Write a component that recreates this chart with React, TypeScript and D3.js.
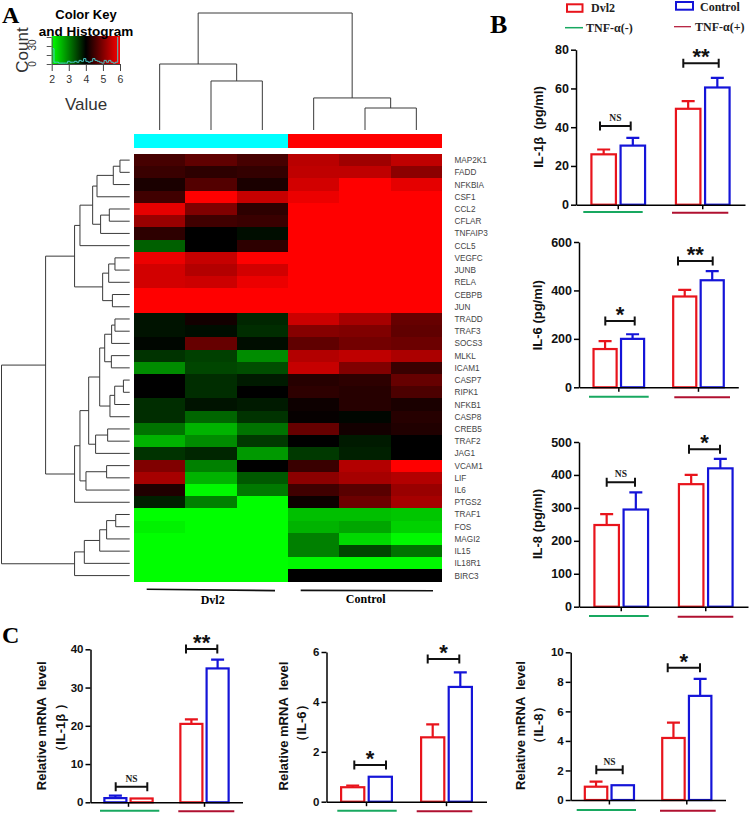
import React, { useEffect, useRef } from 'react'
import { axisBottom, axisLeft, range, scaleBand, scaleLinear, select, line, curveStepAfter } from 'd3'

// heatmap
const genes = ['MAP2K1', 'FADD', 'NFKBIA', 'CSF1', 'CCL2', 'CFLAR', 'TNFAIP3', 'CCL5', 'VEGFC', 'JUNB', 'RELA', 'CEBPB', 'JUN',
    'TRADD', 'TRAF3', 'SOCS3', 'MLKL', 'ICAM1', 'CASP7', 'RIPK1', 'NFKB1', 'CASP8', 'CREB5', 'TRAF2', 'JAG1',
    'VCAM1', 'LIF', 'IL6', 'PTGS2', 'TRAF1', 'FOS', 'MAGI2', 'IL15', 'IL18R1', 'BIRC3']

const expression: number[][] = [
    [4.55, 4.75, 4.55, 5.45, 5.25, 5.5],
    [4.45, 4.35, 4.4, 5.5, 5.5, 5.1],
    [4.2, 4.65, 4.2, 5.65, 6, 5.8],
    [4.5, 6, 5.55, 5.85, 6, 6],
    [5.8, 5.0, 4.35, 6, 6, 6],
    [5.2, 4.5, 4.45, 6, 6, 6],
    [4.35, 4.0, 3.9, 6, 6, 6],
    [3.25, 4.0, 4.35, 6, 6, 6],
    [5.85, 5.55, 6, 6, 6, 6],
    [5.65, 5.4, 5.65, 6, 6, 6],
    [5.65, 5.6, 5.85, 6, 6, 6],
    [6, 6, 6, 6, 6, 6],
    [6, 6, 6, 6, 6, 6],
    [3.85, 4.15, 3.7, 5.6, 5.3, 4.8],
    [3.85, 3.9, 3.65, 5.05, 5.0, 4.75],
    [3.95, 4.8, 3.9, 4.75, 4.9, 4.85],
    [3.6, 3.5, 2.9, 5.4, 5.5, 5.35],
    [2.9, 3.45, 3.4, 5.55, 5.0, 4.45],
    [4.0, 3.65, 3.8, 4.3, 4.35, 4.8],
    [4.0, 3.65, 4.0, 4.35, 4.3, 4.6],
    [3.65, 3.85, 3.8, 4.1, 4.3, 4.2],
    [3.65, 3.2, 3.6, 4.05, 3.95, 4.3],
    [3.1, 2.6, 3.1, 4.8, 4.15, 4.25],
    [2.6, 2.9, 3.55, 4.0, 3.8, 4.0],
    [3.6, 3.7, 2.8, 3.55, 3.75, 4.0],
    [5.0, 3.0, 4.0, 4.45, 5.4, 6],
    [5.3, 2.6, 3.3, 5.1, 5.3, 5.4],
    [4.25, 2.05, 3.05, 4.5, 4.7, 5.2],
    [3.75, 3.0, 2, 4.1, 4.85, 5.3],
    [2, 2, 2, 2.5, 2.5, 2.45],
    [2.1, 2, 2, 2.6, 2.7, 2.35],
    [2, 2, 2, 3.0, 2.3, 2.05],
    [2, 2, 2, 3.0, 3.45, 3.1],
    [2, 2, 2, 2.05, 2.05, 2.05],
    [2, 2, 2, 4, 4, 4],
]

const sampleGroups = ['#00ffff', '#00ffff', '#00ffff', '#ff0000', '#ff0000', '#ff0000']

// color key histogram counts, one per bin between 2 and 6
const histCounts = [17, 2, 2, 1, 1, 1, 1, 3, 2, 2, 3, 2, 4, 3, 6, 3, 2, 3, 6, 4, 3, 2, 1, 4, 2, 4, 2, 1, 2, 30]
const keyTicks = [2, 3, 4, 5, 6]

// dendrograms: [height, child, child], a number child is a leaf index
type Node = [number, Node | number, Node | number]

const colTree: Node = [1, [0.564, 0, [0.419, 1, 2]], [0.274, 3, [0.188, 4, 5]]]

const rowTree: Node = [10,
    [6.56,
        [4.30,
            [3.88,
                [2.89,
                    [2.55, [1.28, [0.76, 0, 1], 2], 3],
                    [2.27, [1.59, 4, 5], 6]],
                7],
            [2.11,
                [1.64, [1.15, 8, 9], 10],
                [1.35, 11, 12]]],
        [4.30,
            [3.88,
                [3.20,
                    [2.34,
                        [1.95, [1.41, [1.15, 13, 14], 15], [1.43, 16, 17]],
                        [1.54, [1.17, [0.49, 18, 19], 20], 21]],
                    [2.66, [1.72, 22, 23], 24]],
                [3.41, [1.80, 25, 26], 27]],
            28]],
    [4.30,
        [3.54,
            [2.34, [1.80, [1.09, 29, 30], 31], 32],
            33],
        34]]

// bar panels
const groupNames = ['TNF-α(-)', 'TNF-α(+)']
const il1bMeans = [26, 30.5, 49.5, 60.5]
const il1bTops = [28.5, 34.5, 53.5, 65.5]
const il6Means = [158, 200, 375, 442]
const il6Tops = [191, 219, 402, 480]
const il8Means = [248, 295, 372, 420]
const il8Tops = [281, 347, 400, 449]
const il1bRnaMeans = [1.1, 1.0, 20.5, 35]
const il1bRnaTops = [1.75, 1.0, 21.7, 37.3]
const il6RnaMeans = [0.58, 1.0, 2.58, 4.6]
const il6RnaTops = [0.65, 1.0, 3.1, 5.18]
const il8RnaMeans = [0.9, 1.0, 4.2, 7.05]
const il8RnaTops = [1.24, 1.0, 5.24, 8.2]

const RED = '#e8141c'
const BLUE = '#1414d8'
const GREEN_LINE = '#18a860'
const RED_LINE = '#b01030'
const SANS = '"Liberation Sans", Arial, sans-serif'
const SERIF = '"Liberation Serif", "Times New Roman", serif'

// green to black to red, same as the color key
const keyScale = scaleLinear<string>().domain([2, 4, 6]).range(['#00ff00', '#000000', '#ff0000']).clamp(true)

const heat = { left: 134, right: 442, top: 154, bottom: 581.7 }
const xCol = scaleBand<number>().domain(range(6)).range([heat.left, heat.right])
const yRow = scaleBand<number>().domain(range(genes.length)).range([heat.top, heat.bottom])

function treeLines(node: Node | number, pos: (i: number) => number, h: (v: number) => number, out: string[], horizontal: boolean): { p: number, d: number } {
    if (typeof node === 'number') return { p: pos(node), d: h(0) }
    const a = treeLines(node[1], pos, h, out, horizontal)
    const b = treeLines(node[2], pos, h, out, horizontal)
    const d = h(node[0])
    if (horizontal) out.push(`M${a.d},${a.p}H${d}V${b.p}H${b.d}`)
    else out.push(`M${a.p},${a.d}V${d}H${b.p}V${b.d}`)
    return { p: (a.p + b.p) / 2, d }
}

function Dendrograms() {
    const top: string[] = []
    const left: string[] = []
    const yTop = scaleLinear().domain([0, 1]).range([130, 13])
    const xLeft = scaleLinear().domain([0, 10]).range([129.7, 1.5])
    treeLines(colTree, (i) => (xCol(i) ?? 0) + xCol.bandwidth() / 2, yTop, top, false)
    treeLines(rowTree, (i) => (yRow(i) ?? 0) + yRow.bandwidth() / 2, xLeft, left, true)
    return (
        <g fill="none" stroke="#3a3a3a" strokeWidth={1}>
            {top.map((d, i) => <path key={i} d={d} />)}
            {left.map((d, i) => <path key={i} d={d} />)}
        </g>
    )
}

function Heatmap() {
    return (
        <g>
            <g shapeRendering="crispEdges">
                {sampleGroups.map((c, i) => (
                    <rect key={i} x={xCol(i)} y={134} width={xCol.bandwidth() + 0.3} height={14} fill={c} />
                ))}
                {expression.map((row, r) => row.map((v, c) => (
                    <rect key={`${r}-${c}`} x={xCol(c)} y={yRow(r)} width={xCol.bandwidth() + 0.3} height={yRow.bandwidth() + 0.3} fill={keyScale(v)} />
                )))}
            </g>
            {genes.map((g, r) => (
                <text key={g} x={454.5} y={(yRow(r) ?? 0) + yRow.bandwidth() / 2 + 3} fontFamily={SANS} fontSize={8.2} fill="#444">{g}</text>
            ))}
            <line x1={146.7} y1={589.3} x2={275} y2={590.6} stroke="#111" strokeWidth={1.6} />
            <line x1={300.7} y1={590.4} x2={433} y2={590.8} stroke="#111" strokeWidth={1.6} />
            <text x={212.7} y={603.5} textAnchor="middle" fontFamily={SERIF} fontWeight="bold" fontSize={12}>Dvl2</text>
            <text x={365.7} y={602.7} textAnchor="middle" fontFamily={SERIF} fontWeight="bold" fontSize={12}>Control</text>
        </g>
    )
}

function ColorKey() {
    const axisRef = useRef<SVGGElement>(null)
    const countRef = useRef<SVGGElement>(null)
    const x = scaleLinear().domain([2, 6]).range([51.7, 120])
    const y = scaleLinear().domain([0, 30]).range([64, 37])
    const bins = histCounts.map((_, i) => 2 + (i * 4) / histCounts.length)
    const histLine = line<number>()
        .x((d) => x(d))
        .y((_, i) => y(histCounts[i]))
        .curve(curveStepAfter)

    useEffect(() => {
        const xAxis = select(axisRef.current)
        xAxis.selectAll('*').remove()
        xAxis.attr('transform', 'translate(0,64)').call(axisBottom(x).tickValues(keyTicks).tickSize(7).tickPadding(5).tickSizeOuter(0).tickFormat((d) => String(d)) as any)
        xAxis.selectAll('text').attr('font-family', SANS).attr('font-size', 10.5).attr('fill', '#333')
        xAxis.selectAll('line,path').attr('stroke', '#444')
        const yAxis = select(countRef.current)
        yAxis.selectAll('*').remove()
        yAxis.attr('transform', 'translate(51.7,0)').call(axisLeft(y).tickValues([0, 10, 20, 30]).tickSize(5).tickFormat(() => '').tickSizeOuter(0) as any)
        yAxis.selectAll('line,path').attr('stroke', '#555')
    }, [])

    return (
        <g>
            <defs>
                <linearGradient id="keyGrad">
                    <stop offset="0" stopColor="#00ff00" />
                    <stop offset="0.5" stopColor="#000000" />
                    <stop offset="1" stopColor="#ff0000" />
                </linearGradient>
            </defs>
            <rect x={51.7} y={36} width={68.3} height={28} fill="url(#keyGrad)" />
            <path d={histLine(bins) ?? ''} fill="none" stroke="#48c8c8" strokeWidth={1} />
            <g ref={axisRef} />
            <g ref={countRef} />
            <text x={86} y={19} textAnchor="middle" fontFamily={SANS} fontWeight="bold" fontSize={13}>Color Key</text>
            <text x={86} y={36} textAnchor="middle" fontFamily={SANS} fontWeight="bold" fontSize={13.5}>and Histogram</text>
            <text x={86} y={110} textAnchor="middle" fontFamily={SANS} fontSize={17} fill="#333">Value</text>
            <text transform="translate(28,50) rotate(-90)" textAnchor="middle" fontFamily={SANS} fontSize={17} fill="#333">Count</text>
            <text transform="translate(36,64) rotate(-90)" textAnchor="middle" fontFamily={SANS} fontSize={10} fill="#333">0</text>
            <text transform="translate(36,45) rotate(-90)" textAnchor="middle" fontFamily={SANS} fontSize={10} fill="#333">30</text>
        </g>
    )
}

type Panel = {
    means: number[], tops: number[], colors: string[], ticks: number[], max: number,
    x0: number, x1: number, yTop: number, yBottom: number, tickSize: number,
    sig: string[], sigLevels: number[], brackets: number[][],
    under: number[][], titles: { text: string, x: number, y: number }[],
}

const STD = [RED, BLUE, RED, BLUE]

const panels: Panel[] = [
    { means: il1bMeans, tops: il1bTops, colors: STD, ticks: [0, 20, 40, 60, 80], max: 80, x0: 576, x1: 745, yTop: 49.7, yBottom: 204.7, tickSize: 12.5,
        sig: ['NS', '**'], sigLevels: [40.6, 73], brackets: [[600, 630.7], [683.3, 718.7]], under: [[583.3, 642.7, 212], [672, 728.3, 212.7]],
        titles: [{ text: 'IL-1β  (pg/ml)', x: 540, y: 127 }] },
    { means: il6Means, tops: il6Tops, colors: STD, ticks: [0, 200, 400, 600], max: 600, x0: 579, x1: 738.3, yTop: 242, yBottom: 387.3, tickSize: 12.5,
        sig: ['*', '**'], sigLevels: [273.8, 521.5], brackets: [[605.3, 634.7], [678, 712.7]], under: [[589, 648.7, 396.7], [674.3, 730, 397.3]],
        titles: [{ text: 'IL-6 (pg/ml)', x: 538.3, y: 315.3 }] },
    { means: il8Means, tops: il8Tops, colors: STD, ticks: [0, 100, 200, 300, 400, 500], max: 500, x0: 579, x1: 748, yTop: 442, yBottom: 606.7, tickSize: 12.5,
        sig: ['NS', '*'], sigLevels: [377.7, 477.8], brackets: [[606.7, 635], [689, 720]], under: [[589, 648.7, 616], [677.7, 733.3, 616.7]],
        titles: [{ text: 'IL-8 (pg/ml)', x: 538.3, y: 524 }] },
    { means: il1bRnaMeans, tops: il1bRnaTops, colors: [BLUE, RED, RED, BLUE], ticks: [0, 10, 20, 30, 40], max: 40, x0: 90.5, x1: 242.5, yTop: 649.3, yBottom: 802.3, tickSize: 11.5,
        sig: ['NS', '**'], sigLevels: [4.08, 40.08], brackets: [[115.7, 147.3], [186, 217.3]], under: [[100, 159.3, 810.7], [178.3, 234.3, 811.3]],
        titles: [{ text: 'Relative mRNA  level', x: 43, y: 725.8 }, { text: '（IL-1β ）', x: 61.7, y: 727.5 }] },
    { means: il6RnaMeans, tops: il6RnaTops, colors: STD, ticks: [0, 2, 4, 6], max: 6, x0: 326.5, x1: 486.5, yTop: 652, yBottom: 801.7, tickSize: 11.5,
        sig: ['*', '*'], sigLevels: [1.47, 5.72], brackets: [[354.3, 386], [427.7, 459.3]], under: [[337.3, 396.7, 810.7], [416.7, 472.3, 811.3]],
        titles: [{ text: 'Relative mRNA  level', x: 285, y: 726 }, { text: '（IL-6）', x: 302.7, y: 723 }] },
    { means: il8RnaMeans, tops: il8RnaTops, colors: STD, ticks: [0, 2, 4, 6, 8, 10], max: 10, x0: 570.7, x1: 725.5, yTop: 652.3, yBottom: 800, tickSize: 11.5,
        sig: ['NS', '*'], sigLevels: [2.05, 8.96], brackets: [[596.3, 622.7], [667.7, 700]], under: [[576.7, 636, 810], [660, 715.7, 810.7]],
        titles: [{ text: 'Relative mRNA  level', x: 521.7, y: 725.5 }, { text: '（IL-8）', x: 540, y: 725 }] },
]

function BarPanel({ p }: { p: Panel }) {
    const yRef = useRef<SVGGElement>(null)
    const xRef = useRef<SVGGElement>(null)
    const x = scaleBand<string>().domain(groupNames).range([p.x0, p.x1])
    const y = scaleLinear().domain([0, p.max]).range([p.yBottom, p.yTop])
    const span = x.step() * 0.635
    const inner = scaleBand<number>().domain([0, 1]).range([-span / 2, span / 2]).paddingInner(0.16)

    useEffect(() => {
        const yAxis = select(yRef.current)
        yAxis.selectAll('*').remove()
        yAxis.attr('transform', `translate(${p.x0},0)`)
            .call(axisLeft(y).tickValues(p.ticks).tickSize(5).tickPadding(2).tickSizeOuter(0).tickFormat((d) => String(d)) as any)
        yAxis.selectAll('text').attr('font-family', SANS).attr('font-weight', 'bold').attr('font-size', p.tickSize).attr('fill', '#111')
        yAxis.selectAll('line,path').attr('stroke', '#000').attr('stroke-width', 1.5)
        const xAxis = select(xRef.current)
        xAxis.selectAll('*').remove()
        xAxis.attr('transform', `translate(0,${p.yBottom})`)
            .call(axisBottom(x).tickSize(4.5).tickFormat(() => '').tickSizeOuter(0) as any)
        xAxis.selectAll('line,path').attr('stroke', '#000').attr('stroke-width', 1.5)
    }, [])

    return (
        <g>
            {p.means.map((m, i) => {
                const g = groupNames[Math.floor(i / 2)]
                const cx = (x(g) ?? 0) + x.bandwidth() / 2
                const bx = cx + (inner(i % 2) ?? 0)
                const mid = bx + inner.bandwidth() / 2
                const col = p.colors[i]
                return (
                    <g key={i} stroke={col} strokeWidth={2.2} fill="none">
                        {p.tops[i] > m && <path d={`M${mid},${y(m)}V${y(p.tops[i])}M${mid - 6.5},${y(p.tops[i])}H${mid + 6.5}`} />}
                        <rect x={bx} y={y(m)} width={inner.bandwidth()} height={y(0) - y(m)} fill="#fff" />
                    </g>
                )
            })}
            <g ref={yRef} />
            <g ref={xRef} />
            {p.brackets.map((b, i) => {
                const by = y(p.sigLevels[i])
                const cx = (b[0] + b[1]) / 2
                return (
                    <g key={i}>
                        <path d={`M${b[0]},${by - 4.5}V${by + 4.5}M${b[0]},${by}H${b[1]}M${b[1]},${by - 4.5}V${by + 4.5}`} stroke="#111" strokeWidth={2} fill="none" />
                        {p.sig[i] === 'NS'
                            ? <text x={cx} y={by - 5} textAnchor="middle" fontFamily={SERIF} fontWeight="bold" fontSize={9.5} fill="#222">NS</text>
                            : <text x={cx} y={by + 1} textAnchor="middle" fontFamily={SANS} fontWeight="bold" fontSize={22} fill="#111">{p.sig[i]}</text>}
                    </g>
                )
            })}
            {p.under.map((u, i) => (
                <line key={i} x1={u[0]} x2={u[1]} y1={u[2]} y2={u[2]} stroke={i === 0 ? GREEN_LINE : RED_LINE} strokeWidth={2} />
            ))}
            {p.titles.map((t) => (
                <text key={t.text} transform={`translate(${t.x},${t.y}) rotate(-90)`} textAnchor="middle" dominantBaseline="middle" fontFamily={SANS} fontWeight="bold" fontSize={13} fill="#111" style={{ whiteSpace: 'pre' }}>{t.text}</text>
            ))}
        </g>
    )
}

function Legend() {
    const t = { fontFamily: SERIF, fontWeight: 'bold', fontSize: 12, fill: '#222' }
    return (
        <g>
            <rect x={567} y={4.3} width={15.5} height={7.5} fill="none" stroke={RED} strokeWidth={2} />
            <text x={591} y={12} {...t}>Dvl2</text>
            <rect x={676} y={2} width={17} height={7.7} fill="none" stroke={BLUE} strokeWidth={2} />
            <text x={700} y={10.5} {...t}>Control</text>
            <line x1={565} x2={583} y1={27.7} y2={27.7} stroke={GREEN_LINE} strokeWidth={1.5} />
            <text x={586} y={31.7} {...t}>{groupNames[0]}</text>
            <line x1={674} x2={691} y1={26.7} y2={26.7} stroke={RED_LINE} strokeWidth={1.2} />
            <text x={695} y={30.7} {...t}>{groupNames[1]}</text>
        </g>
    )
}

export default function App() {
    return (
        <svg width={750} height={813} style={{ position: 'absolute', left: 0, top: 0, background: '#fff' }}>
            <ColorKey />
            <Dendrograms />
            <Heatmap />
            <Legend />
            {panels.map((p, i) => <BarPanel key={i} p={p} />)}
            <text x={2} y={23} fontFamily={SERIF} fontWeight="bold" fontSize={24}>A</text>
            <text x={490} y={33} fontFamily={SERIF} fontWeight="bold" fontSize={26}>B</text>
            <text x={2} y={643} fontFamily={SERIF} fontWeight="bold" fontSize={24}>C</text>
        </svg>
    )
}
